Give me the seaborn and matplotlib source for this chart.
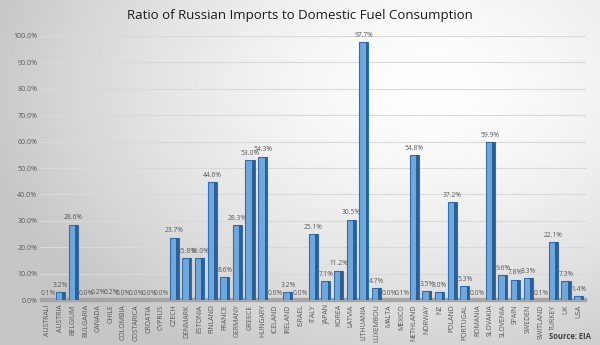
import numpy as np
import pandas as pd
import matplotlib
matplotlib.use("Agg")
import matplotlib.pyplot as plt
import seaborn as sns

countries = ["AUSTRALI", "AUSTRIA", "BELGIUM", "BULGARIA", "CANADA", "CHILE", "COLOMBIA",
             "COSTARICA", "CROATIA", "CYPRUS", "CZECH", "DENMARK", "ESTONIA", "FINLAND",
             "FRANCE", "GERMANY", "GREECE", "HUNGARY", "ICELAND", "IRELAND", "ISRAEL",
             "ITALY", "JAPAN", "KOREA", "LATVIA", "LITHUANIA", "LUXEMBOU", "MALTA",
             "MEXICO", "NETHLAND", "NORWAY", "NZ", "POLAND", "PORTUGAL", "ROMANIA",
             "SLOVAKIA", "SLOVENIA", "SPAIN", "SWEDEN", "SWITLAND", "TURKEY", "UK", "USA"]
ratios = [0.1, 3.2, 28.6, 0.0, 0.2, 0.2, 0.0, 0.0, 0.0, 0.0, 23.7, 15.8, 16.0, 44.6,
          8.6, 28.3, 53.0, 54.3, 0.0, 3.2, 0.0, 25.1, 7.1, 11.2, 30.5, 97.7, 4.7, 0.0,
          0.1, 54.8, 3.5, 3.0, 37.2, 5.3, 0.0, 59.9, 9.6, 7.8, 8.3, 0.1, 22.1, 7.3, 1.4]
yticks = [0, 10, 20, 30, 40, 50, 60, 70, 80, 90, 100]

df = pd.DataFrame({"country": countries, "ratio": ratios})

sns.set_theme(style="white")
plt.rcParams["font.family"] = ["Open Sans", "DejaVu Sans"]

fig = plt.figure(figsize=(6, 3.45), dpi=100)

# gradient background
bg = fig.add_axes([0, 0, 1, 1], zorder=-10)
xx, yy = np.meshgrid(np.linspace(0, 1, 300), np.linspace(0, 1, 200))
d = np.sqrt(((xx - 0.72) / 1.0) ** 2 + ((yy - 0.25) / 1.2) ** 2)
g = 1.0 - 0.22 * np.clip(d / 0.75, 0, 1) ** 1.5
bg.imshow(np.dstack([g, g, g]), aspect="auto", extent=[0, 1, 0, 1])
bg.axis("off")

ax = fig.add_axes([0.067, 0.130, 0.91, 0.766])
ax.patch.set_alpha(0)

sns.barplot(data=df, x="country", y="ratio", color="#6fa8dc", edgecolor="#2f6fb0",
            linewidth=0.8, width=0.72, ax=ax, saturation=1, zorder=3)

# 3D-ish right side shading
for p in ax.patches:
    h = p.get_height()
    if h > 0:
        ax.add_patch(plt.Rectangle((p.get_x() + p.get_width() * 0.72, 0),
                                   p.get_width() * 0.28, h,
                                   facecolor="#2d5f94", edgecolor="none", zorder=4))

ax.set_ylim(0, 100)
ax.set_xlim(-0.6, len(countries) - 0.4)
ax.set_yticks(yticks)
ax.set_yticklabels([f"{v:.1f}%" for v in yticks], fontsize=5, color="#595959")
ax.yaxis.grid(True, color="#d9d9d9", linewidth=0.8, zorder=0)
ax.set_axisbelow(True)
ax.tick_params(axis="x", labelrotation=90, labelsize=5, colors="#595959", length=0, pad=3)
ax.tick_params(axis="y", length=0, pad=2)
ax.set_xlabel("")
ax.set_ylabel("")
for s in ax.spines.values():
    s.set_visible(False)

# floor strip
ax.axhspan(-0.3, 0.8, color="#a6a6a6", zorder=2, clip_on=False)

for i, v in enumerate(ratios):
    ax.text(i, v + 1.2, f"{v:.1f}%", ha="center", va="bottom", fontsize=4.8,
            color="#595959", zorder=5)

fig.text(0.5, 0.955, "Ratio of Russian Imports to Domestic Fuel Consumption",
         ha="center", va="center", fontsize=9.5, color="#1a1a1a")
fig.text(0.985, 0.025, "Source: EIA", ha="right", va="center", fontsize=5.5,
         color="#404040", fontweight="bold")

fig.savefig("out.png", dpi=100)
